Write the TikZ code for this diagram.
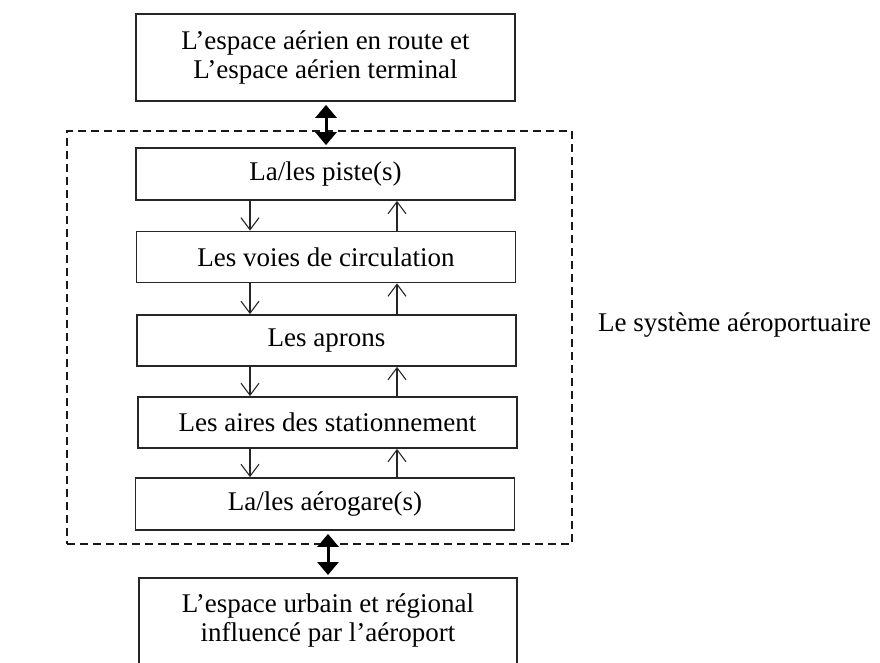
\documentclass[tikz,border=0pt]{standalone}
\usepackage{fontspec}
\setmainfont{Liberation Serif}
\usetikzlibrary{arrows.meta}
\begin{document}
\begin{tikzpicture}[x=1pt,y=-1pt,
  txt/.style={font=\fontsize{27}{29}\selectfont},
  box/.style={draw=black!85, line width=1.8pt, minimum width=379pt, inner sep=0pt, align=center, txt},
  sysbox/.style={draw=black!90, line width=1.8pt, dash pattern=on 8pt off 5pt, inner sep=0pt},
  dn/.style={draw=black!85, line width=1.1pt, -{Straight Barb[length=12pt,width=18pt,line width=1.1pt]}},
  dbl/.style={line width=3pt, {Triangle[length=13pt,width=21pt]}-{Triangle[length=13pt,width=21pt]}, shorten <=3pt, shorten >=2pt}]
\useasboundingbox (0,0) rectangle (880,663);
\clip (0,0) rectangle (880,663);
\node[sysbox, minimum width=505pt, minimum height=413pt] (sys) at (319.5,337.5) {};
\node[box, minimum height=87pt] (top) at (325.5,57.5) {L’espace aérien en route et\\L’espace aérien terminal};
\node[box, minimum height=52pt] (piste) at (325.5,174) {La/les piste(s)};
\node[box, minimum height=51pt] (voies) at (326,257) {Les voies de circulation};
\node[box, minimum height=51pt] (aprons) at (326.5,340.5) {Les aprons};
\node[box, minimum height=51pt] (aires) at (327.5,422.5) {Les aires des stationnement};
\node[box, minimum height=52pt] (gare) at (325,504) {La/les aérogare(s)};
\node[box, minimum height=120pt, minimum width=378pt, anchor=north] (ville) at (328,577) {};
\node[txt, align=center] (villetxt) at (328,620) {L’espace urbain et régional\\influencé par l’aéroport};
\node[txt, anchor=west, inner sep=0pt] (lbl) at (598,325) {Le système aéroportuaire};
\coordinate (dx) at (250,0);
\coordinate (ux) at (397,0);
\foreach \a/\b in {piste/voies, voies/aprons, aprons/aires, aires/gare}{
  \draw[dn] (\a.south -| dx) -- (\b.north -| dx);
  \draw[dn] (\b.north -| ux) -- (\a.south -| ux);
}
\coordinate (tx) at (326,0);
\coordinate (bx) at (328,0);
\draw[dbl] (top.south -| tx) -- (piste.north -| tx);
\draw[dbl] (gare.south -| bx) -- (ville.north -| bx);
\end{tikzpicture}
\end{document}
